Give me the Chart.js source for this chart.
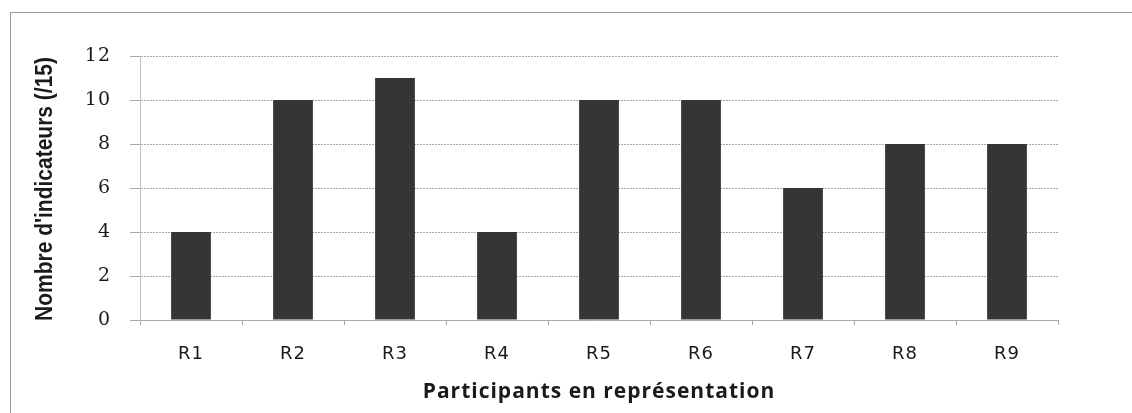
<!DOCTYPE html>
<html>
<head>
<meta charset="utf-8">
<script src="https://cdn.jsdelivr.net/npm/chart.js@4/dist/chart.umd.min.js"></script>
<style>
  html, body { margin: 0; padding: 0; background: #fff; }
  #wrap { position: relative; width: 1132px; height: 413px; overflow: hidden; }
  #frame { position: absolute; left: 10px; top: 12px; right: -2px; bottom: -2px;
           border-top: 1px solid #999; border-left: 1px solid #999; }
  canvas { position: absolute; left: 0; top: 0; }
</style>
</head>
<body>
<div id="wrap">
  <div id="frame"></div>
  <canvas id="c" width="1132" height="413"></canvas>
</div>
<script>
// bar chart: indicators per participant
const categories = ['R1', 'R2', 'R3', 'R4', 'R5', 'R6', 'R7', 'R8', 'R9'];
const indicateurs = [4, 10, 11, 4, 10, 10, 6, 8, 8];
const yTicks = [0, 2, 4, 6, 8, 10, 12];
const yTitle = "Nombre d'indicateurs (/15)";
const xTitle = 'Participants en représentation';

const ink = '#1a1a1a';
const gridCol = '#a8a8a8';

// the scanned labels are loosely tracked; widen text a bit
const tracking = {
  id: 'tracking',
  beforeDraw(chart) { chart.ctx.letterSpacing = '1px'; },
  afterDraw(chart) { chart.ctx.letterSpacing = '0px'; }
};

// condensed bold y title (no narrow font installed, so squeeze it)
const condensedYTitle = {
  id: 'condensedYTitle',
  afterDraw(chart) {
    const { ctx, chartArea } = chart;
    ctx.save();
    ctx.letterSpacing = '0px';
    ctx.font = 'bold 24px "Liberation Sans"';
    ctx.fillStyle = ink;
    ctx.textAlign = 'center';
    ctx.textBaseline = 'middle';
    const w = ctx.measureText(yTitle).width;
    const target = 264;
    ctx.translate(45, (chartArea.top + chartArea.bottom) / 2 + 1);
    ctx.rotate(-Math.PI / 2);
    ctx.scale(target / w, 1);
    ctx.fillText(yTitle, 0, 0);
    ctx.restore();
  }
};

new Chart(document.getElementById('c').getContext('2d'), {
  type: 'bar',
  data: {
    labels: categories,
    datasets: [{
      label: "Nombre d'indicateurs",
      data: indicateurs,
      backgroundColor: '#353535',
      borderWidth: 0,
      barPercentage: 0.39,
      categoryPercentage: 1
    }]
  },
  options: {
    responsive: false,
    animation: false,
    layout: { padding: { left: 0, top: 56, right: 74, bottom: 0 } },
    plugins: { legend: { display: false }, tooltip: { enabled: false } },
    scales: {
      x: {
        afterFit(s) { s.height = 93; },
        grid: { drawOnChartArea: false, tickLength: 5, color: gridCol },
        border: { color: gridCol, dash: [2, 1] },
        ticks: { color: ink, font: { family: 'DejaVu Sans', size: 18 }, padding: 19 },
        title: {
          display: true,
          text: xTitle,
          color: ink,
          font: { family: 'Open Sans', size: 21, weight: 'bold' },
          padding: { top: 0, bottom: 8 }
        }
      },
      y: {
        min: 0,
        max: 12,
        afterFit(s) { s.width = 140; },
        afterBuildTicks(s) { s.ticks = yTicks.map(v => ({ value: v })); },
        grid: { color: gridCol, tickLength: 10 },
        border: { color: '#c0c0c0', dash: [2, 1] },
        ticks: { color: ink, font: { family: 'DejaVu Serif', size: 19 }, padding: 19 }
      }
    }
  },
  plugins: [tracking, condensedYTitle]
});
</script>
</body>
</html>
